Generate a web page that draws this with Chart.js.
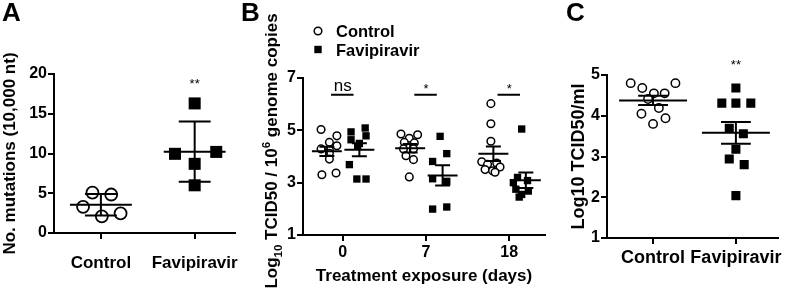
<!DOCTYPE html>
<html><head><meta charset="utf-8">
<script src="https://cdn.jsdelivr.net/npm/chart.js@4.4.1/dist/chart.umd.min.js"></script>
<style>
html,body{margin:0;padding:0;background:#fff;}
#wrap{position:relative;width:786px;height:292px;overflow:hidden;background:#fff;}
canvas{position:absolute;left:0;top:0;}
.lt{position:absolute;font:bold 26px 'Liberation Sans',Arial,sans-serif;line-height:26px;color:#000;top:-1px;}
</style></head><body>
<div id="wrap">
<canvas id="cA" width="786" height="292"></canvas>
<canvas id="cB" width="786" height="292"></canvas>
<canvas id="cC" width="786" height="292"></canvas>
<div class="lt" style="left:2px">A</div>
<div class="lt" style="left:241px">B</div>
<div class="lt" style="left:566px">C</div>
</div>
<script>
// ---------- DATA ----------
// Panel A
const aCategories = ['Control', 'Favipiravir'];
const aControl = [5.09, 4.84, 3.29, 2.10, 2.46];
const aControlJitter = [-0.09, 0.11, -0.19, 0.01, 0.21];
const aFavipiravir = [16.3, 9.96, 8.7, 6.0, 10.2];
const aFavipiravirJitter = [0, -0.21, 0, 0, 0.23];
const aYTicks = [0, 5, 10, 15, 20];
const aSignificance = ['', '**'];

// Panel B
const bDays = ['0', '7', '18'];
const bControlDay0 = [5.03, 4.79, 4.54, 4.29, 4.41, 4.25, 4.12, 3.90, 3.30, 3.37];
const bControlDay0Jitter = [-0.07, 0.12, 0.03, -0.07, 0.12, 0.03, 0.03, 0.03, -0.06, 0.11];
const bFavipiravirDay0 = [4.94, 5.09, 4.79, 4.64, 4.39, 4.50, 3.69, 3.14, 3.14];
const bFavipiravirDay0Jitter = [-0.10, 0.07, 0.08, -0.10, -0.02, 0.0, -0.12, -0.03, 0.08];
const bControlDay7 = [4.86, 4.83, 4.70, 4.54, 4.52, 4.29, 4.29, 4.03, 3.88, 3.22];
const bControlDay7Jitter = [-0.11, 0.09, -0.01, -0.07, 0.05, -0.08, 0.04, -0.05, 0.04, -0.01];
const bFavipiravirDay7 = [4.77, 4.11, 3.81, 3.15, 3.05, 1.99, 2.07];
const bFavipiravirDay7Jitter = [-0.03, 0.05, -0.12, -0.12, 0.05, -0.12, 0.05];
const bControlDay18 = [6.02, 5.25, 4.58, 3.80, 3.75, 3.70, 3.60, 3.50, 3.45, 3.40];
const bControlDay18Jitter = [-0.03, -0.03, -0.03, -0.14, 0.04, -0.07, 0.08, -0.10, -0.01, 0.02];
const bFavipiravirDay18 = [5.05, 3.20, 3.08, 3.00, 2.75, 2.68, 2.55, 2.45];
const bFavipiravirDay18Jitter = [-0.05, -0.10, 0.02, -0.15, -0.12, 0.03, -0.05, -0.08];
const bYTicks = [1, 3, 5, 7];
const bSignificance = ['ns', '*', '*'];

// Panel C
const cCategories = ['Control', 'Favipiravir'];
const cControl = [4.80, 4.68, 4.55, 4.55, 4.80, 4.41, 4.19, 4.05, 3.94, 3.80];
const cControlJitter = [-0.27, -0.13, 0.01, 0.14, 0.27, -0.06, 0.07, -0.14, 0.15, 0];
const cFavipiravir = [4.68, 4.31, 4.31, 4.31, 3.69, 3.56, 3.18, 2.94, 2.80, 2.04];
const cFavipiravirJitter = [0, -0.17, 0, 0.18, -0.08, 0.09, 0, -0.08, 0.10, 0];
const cYTicks = [1, 2, 3, 4, 5];
const cSignificance = ['', '**'];

// ---------- HELPERS ----------
const FONT = "'Liberation Sans', Arial, Helvetica, sans-serif";
Chart.defaults.font.family = FONT;
Chart.defaults.font.weight = 'bold';
Chart.defaults.color = '#000';
Chart.defaults.animation = false;

const mean = a => a.reduce((s, v) => s + v, 0) / a.length;
const sd = a => { const m = mean(a); return Math.sqrt(a.reduce((s, v) => s + (v - m) * (v - m), 0) / (a.length - 1)); };
const sem = a => sd(a) / Math.sqrt(a.length);
const pts = (vals, center, jit) => vals.map((v, i) => ({ x: center + jit[i], y: v }));

function xScale(cats, min, max, fontSize, pad, height, title, titlePadBottom, titleSize) {
  return {
    type: 'linear', min, max,
    afterBuildTicks: s => { s.ticks = cats.map((c, i) => ({ value: i })); },
    ticks: { callback: v => cats[v] ?? '', font: { size: fontSize, weight: 'bold' }, padding: pad,
             autoSkip: false, maxRotation: 0, minRotation: 0, color: '#000' },
    grid: { display: true, drawOnChartArea: false, drawTicks: true, tickLength: 6, color: '#000', lineWidth: 2 },
    border: { display: true, color: '#000', width: 2 },
    title: { display: !!title, text: title || '', color: '#000',
             font: { size: titleSize || 17, weight: 'bold' }, padding: { top: 0, bottom: titlePadBottom || 0 } },
    afterFit: s => { s.height = height; }
  };
}
function yScale(ticksArr, fontSize, width, title, titleSize, titlePad) {
  return {
    type: 'linear', min: ticksArr[0], max: ticksArr[ticksArr.length - 1],
    afterBuildTicks: s => { s.ticks = ticksArr.map(v => ({ value: v })); },
    ticks: { font: { size: fontSize, weight: 'bold' }, padding: 1, color: '#000', callback: v => String(v) },
    grid: { display: true, drawOnChartArea: false, drawTicks: true, tickLength: 6, color: '#000', lineWidth: 2 },
    border: { display: true, color: '#000', width: 2 },
    title: { display: !!title, text: title || '', color: '#000',
             font: { size: titleSize || 17, weight: 'bold' }, padding: { top: titlePad || 0, bottom: 0 } },
    afterFit: s => { s.width = width; }
  };
}
function circleSet(label, data, r, bw) {
  return { label, data, pointStyle: 'circle', radius: r, pointRadius: r, backgroundColor: '#fff',
           borderColor: '#000', borderWidth: bw, pointBorderWidth: bw, showLine: false };
}
function squareSet(label, data, r) {
  return { label, data, pointStyle: 'rect', radius: r, pointRadius: r, backgroundColor: '#000',
           borderColor: '#000', borderWidth: 0, pointBorderWidth: 0, showLine: false };
}

const statsPlugin = {
  id: 'stats',
  afterDatasetsDraw(chart, args, o) {
    const { ctx, scales: { x, y } } = chart;
    ctx.save();
    ctx.strokeStyle = '#000'; ctx.lineWidth = o.lineWidth; ctx.lineCap = 'butt';
    for (const g of o.groups) {
      const m = mean(g.values), e = g.err === 'sd' ? sd(g.values) : sem(g.values);
      const ym = y.getPixelForValue(m), yu = y.getPixelForValue(m + e), yl = y.getPixelForValue(m - e);
      const xc = x.getPixelForValue(g.center);
      const hw = x.getPixelForValue(g.center + o.meanHalf) - xc;
      const cw = x.getPixelForValue(g.center + o.capHalf) - xc;
      ctx.beginPath();
      ctx.moveTo(xc - hw, ym); ctx.lineTo(xc + hw, ym);
      ctx.moveTo(xc, yu); ctx.lineTo(xc, yl);
      ctx.moveTo(xc - cw, yu); ctx.lineTo(xc + cw, yu);
      ctx.moveTo(xc - cw, yl); ctx.lineTo(xc + cw, yl);
      ctx.stroke();
    }
    ctx.restore();
  },
  afterDraw(chart, args, o) {
    const { ctx, scales: { x, y } } = chart;
    ctx.save();
    ctx.fillStyle = '#000'; ctx.strokeStyle = '#000'; ctx.lineWidth = 2;
    for (const s of (o.sig || [])) {
      if (!s.text) continue;
      ctx.font = s.font + ' ' + FONT;
      ctx.textAlign = 'center'; ctx.textBaseline = 'alphabetic';
      ctx.fillText(s.text, x.getPixelForValue(s.x), y.getPixelForValue(s.y));
      if (s.line) {
        const ly = y.getPixelForValue(s.line[2]);
        ctx.beginPath();
        ctx.moveTo(x.getPixelForValue(s.line[0]), ly);
        ctx.lineTo(x.getPixelForValue(s.line[1]), ly);
        ctx.stroke();
      }
    }
    if (o.legend) {
      const L = o.legend;
      L.items.forEach((it, i) => {
        const cy = L.y + i * L.gap;
        ctx.beginPath();
        if (it.style === 'circle') {
          ctx.fillStyle = '#fff'; ctx.lineWidth = 1.5;
          ctx.arc(L.x, cy, 3.8, 0, Math.PI * 2); ctx.fill(); ctx.stroke();
        } else {
          ctx.fillStyle = '#000'; ctx.fillRect(L.x - 3.7, cy - 3.7, 7.4, 7.4);
        }
        ctx.fillStyle = '#000';
        ctx.font = 'bold 16.5px ' + FONT; ctx.textAlign = 'left'; ctx.textBaseline = 'alphabetic';
        ctx.fillText(it.text, L.x + 18, cy + 6);
      });
    }
    if (o.yTitle) {
      const T = o.yTitle;
      const parts = T.parts;
      let total = 0;
      parts.forEach(p => { ctx.font = 'bold ' + p.size + 'px ' + FONT; p.w = ctx.measureText(p.t).width; total += p.w; });
      ctx.translate(T.x, T.y); ctx.rotate(-Math.PI / 2);
      let cx = -total / 2;
      ctx.textAlign = 'left'; ctx.textBaseline = 'alphabetic'; ctx.fillStyle = '#000';
      parts.forEach(p => { ctx.font = 'bold ' + p.size + 'px ' + FONT; ctx.fillText(p.t, cx, p.shift); cx += p.w; });
    }
    ctx.restore();
  }
};

const common = (padding) => ({
  responsive: false, animation: false, events: [],
  layout: { padding },
  plugins: { legend: { display: false }, tooltip: { enabled: false } }
});

// ---------- PANEL A ----------
{
  const opts = common({ left: 0, right: 551, top: 74, bottom: 0 });
  opts.scales = {
    x: xScale(aCategories, -0.5, 1.43, 17, 14, 59),
    y: yScale(aYTicks, 16, 54, 'No. mutations (10,000 nt)', 17, 0)
  };
  opts.plugins.stats = {
    lineWidth: 2, meanHalf: 0.33, capHalf: 0.17,
    groups: [{ values: aControl, center: 0, err: 'sd' }, { values: aFavipiravir, center: 1, err: 'sd' }],
    sig: aSignificance.map((t, i) => ({ text: t, x: i, y: 18.2, font: '13px' }))
  };
  new Chart(document.getElementById('cA'), {
    type: 'scatter',
    data: { datasets: [
      circleSet('Control', pts(aControl, 0, aControlJitter), 6, 1.8),
      squareSet('Favipiravir', pts(aFavipiravir, 1, aFavipiravirJitter), 8.5)
    ] },
    options: opts, plugins: [statsPlugin]
  });
}

// ---------- PANEL B ----------
{
  const ctrl = [bControlDay0, bControlDay7, bControlDay18];
  const ctrlJ = [bControlDay0Jitter, bControlDay7Jitter, bControlDay18Jitter];
  const fav = [bFavipiravirDay0, bFavipiravirDay7, bFavipiravirDay18];
  const favJ = [bFavipiravirDay0Jitter, bFavipiravirDay7Jitter, bFavipiravirDay18Jitter];
  const cOff = -0.19, fOff = 0.2;
  const opts = common({ left: 240, right: 241, top: 78, bottom: 0 });
  opts.scales = {
    x: xScale(bDays, -0.477, 2.43, 16, 2, 57, 'Treatment exposure (days)', 5, 17),
    y: yScale(bYTicks, 16, 63, '', 17, 0)
  };
  const groups = [];
  bDays.forEach((d, i) => {
    groups.push({ values: ctrl[i], center: i + cOff, err: 'sem' });
    groups.push({ values: fav[i], center: i + fOff, err: 'sem' });
  });
  opts.plugins.stats = {
    lineWidth: 2, meanHalf: 0.18, capHalf: 0.09, groups,
    sig: bSignificance.map((t, i) => ({
      text: t, x: i, y: t === 'ns' ? 6.49 : 6.42, font: t === 'ns' ? '17px' : '13px',
      line: [i - 0.14, i + 0.13, 6.36]
    })),
    legend: { x: 318, y: 31, gap: 18.5, items: [{ text: 'Control', style: 'circle' }, { text: 'Favipiravir', style: 'rect' }] },
    yTitle: { x: 277, y: 151, parts: [
      { t: 'Log', size: 17, shift: 0 }, { t: '10', size: 11.5, shift: 4.5 },
      { t: ' TCID50 / 10', size: 17, shift: 0 }, { t: '6', size: 11.5, shift: -7 },
      { t: ' genome copies', size: 17, shift: 0 }
    ] }
  };
  const cData = [], fData = [];
  bDays.forEach((d, i) => {
    cData.push(...pts(ctrl[i], i + cOff, ctrlJ[i]));
    fData.push(...pts(fav[i], i + fOff, favJ[i]));
  });
  new Chart(document.getElementById('cB'), {
    type: 'scatter',
    data: { datasets: [circleSet('Control', cData, 3.8, 1.5), squareSet('Favipiravir', fData, 5.2)] },
    options: opts, plugins: [statsPlugin]
  });
}

// ---------- PANEL C ----------
{
  const opts = common({ left: 567, right: 3, top: 75, bottom: 0 });
  opts.scales = {
    x: xScale(cCategories, -0.556, 1.51, 18, 3, 54),
    y: yScale(cYTicks, 16, 40, 'Log10 TCID50/ml', 18, 1)
  };
  opts.plugins.stats = {
    lineWidth: 2, meanHalf: 0.41, capHalf: 0.18,
    groups: [{ values: cControl, center: 0, err: 'sem' }, { values: cFavipiravir, center: 1, err: 'sem' }],
    sig: cSignificance.map((t, i) => ({ text: t, x: i, y: 5.15, font: '13px' }))
  };
  new Chart(document.getElementById('cC'), {
    type: 'scatter',
    data: { datasets: [
      circleSet('Control', pts(cControl, 0, cControlJitter), 4.2, 1.5),
      squareSet('Favipiravir', pts(cFavipiravir, 1, cFavipiravirJitter), 6.4)
    ] },
    options: opts, plugins: [statsPlugin]
  });
}
</script>
</body></html>
